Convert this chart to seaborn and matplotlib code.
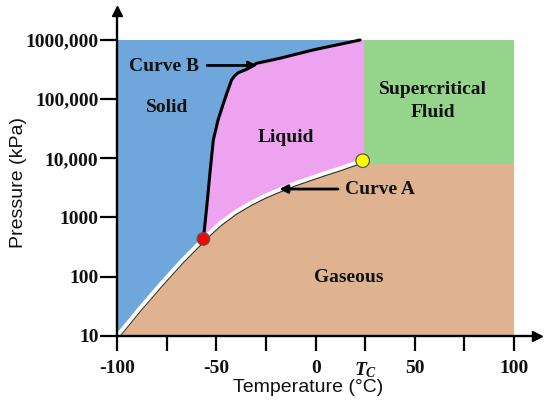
import numpy as np
import pandas as pd
import matplotlib
matplotlib.use("Agg")
import matplotlib.pyplot as plt
import matplotlib.patheffects as pe
from matplotlib.ticker import NullLocator
import seaborn as sns

# ---------------- data ----------------
x_ticks = [-100, -75, -50, -25, 0, 25, 50, 75, 100]
x_tick_labels = ["-100", "", "-50", "", "0", r"$T_C$", "50", "", "100"]
y_ticks = [10, 100, 1000, 10000, 100000, 1000000]
y_tick_labels = ["10", "100", "1000", "10,000", "100,000", "1000,000"]

# Curve A (sublimation + vaporization)
sub_T = [-100, -89.2, -78.3, -67.5, -56.6]
sub_P = [10, 27.7, 73.5, 185, 432]
vap_T = [-56.6, -52.5, -48.2, -40.7, -33.1, -25.6, -17.9, -10.5, -2.9, 4.7, 12.3, 18.4, 23.7]
vap_P = [432, 589, 795, 1222, 1733, 2322, 2985, 3750, 4585, 5610, 6770, 8000, 9100]
# Curve B (melting)
melt_T = [-56.6, -54.9, -53.3, -51.6, -49.2, -46.5, -44.2, -42.4, -40.7, -39.0,
          -34.8, -29.7, -18.0, -1.3, 22.4]
melt_P = [432, 1520, 5570, 20400, 44500, 85100, 142600, 211000, 251000, 280000,
          320000, 404000, 491000, 679000, 1000000]

triple_T, triple_P = -56.6, 432
crit_T, crit_P = 23.7, 9100
Tc_edge = 24.4
Pc_edge = 8040
T_min, T_max = -100, 100
P_min, P_max = 10, 1e6

region_names = ["Solid", "Liquid", "Supercritical", "Fluid", "Gaseous"]
region_T = [-74.9, -14.9, 59.2, 59.2, 16.7]
region_P = [73600, 22600, 143000, 59800, 97]

# ---------------- style ----------------
sns.set_theme(style="white")
plt.rcParams["font.family"] = ["Liberation Serif", "DejaVu Serif"]
plt.rcParams["mathtext.fontset"] = "custom"
plt.rcParams["mathtext.it"] = "Liberation Serif:italic:bold"
plt.rcParams["mathtext.rm"] = "Liberation Serif:bold"
plt.rcParams["mathtext.bf"] = "Liberation Serif:bold"

c_blue = "#6fa6dc"
c_pink = "#eda3ef"
c_green = "#95d48b"
c_tan = "#dfb38f"

fig = plt.figure(figsize=(5.5, 4.08), dpi=100)
fig.patch.set_facecolor("white")
ax = fig.add_axes([117.3 / 550, (408 - 335.7) / 408, (536.5 - 117.3) / 550, (335.7 - 11) / 408])
ax.set_facecolor("white")
ax.set_yscale("log")
ax.set_xlim(-100, 100 + (536.5 - 514) / 1.9835)
ax.set_ylim(10, 10 ** (1 + (335.7 - 11) / 59.14))

# ---------------- regions ----------------
ax.fill([T_min, Tc_edge, Tc_edge, T_min], [P_min, P_min, P_max, P_max],
        color=c_blue, lw=0, zorder=0)
ax.fill([Tc_edge, T_max, T_max, Tc_edge], [Pc_edge, Pc_edge, P_max, P_max],
        color=c_green, lw=0, zorder=0)
curveA_T = sub_T + vap_T[1:]
curveA_P = sub_P + vap_P[1:]
ax.fill(curveA_T + [Tc_edge, T_max, T_max, T_min],
        curveA_P + [Pc_edge, Pc_edge, P_min, P_min],
        color=c_tan, lw=0, zorder=1)
ax.fill(melt_T + [Tc_edge, Tc_edge] + vap_T[::-1],
        melt_P + [P_max, crit_P] + vap_P[::-1],
        color=c_pink, lw=0, zorder=1)

# ---------------- curves ----------------
dfA = pd.DataFrame({"T": curveA_T, "P": curveA_P})
dfB = pd.DataFrame({"T": melt_T, "P": melt_P})
sns.lineplot(data=dfA, x="T", y="P", ax=ax, sort=False, estimator=None,
             color="white", lw=2.8, zorder=3,
             path_effects=[pe.Stroke(offset=(0.4, -0.9), linewidth=2.4, foreground="#2a2a2a"),
                           pe.Normal()])
sns.lineplot(data=dfB, x="T", y="P", ax=ax, sort=False, estimator=None,
             color="black", lw=2.2, zorder=3)

pts = pd.DataFrame({"T": [triple_T, crit_T], "P": [triple_P, crit_P], "kind": ["triple", "critical"]})
sns.scatterplot(data=pts, x="T", y="P", hue="kind", palette={"triple": "#ff0000", "critical": "#ffff00"},
                s=[80, 95], edgecolor="#555555", linewidth=0.9, ax=ax, zorder=5, legend=False)

# ---------------- annotations ----------------
bold = dict(fontweight="bold", fontsize=14, color="#111111", ha="center", va="center")
for name, t, p in zip(region_names, region_T, region_P):
    ax.text(t, p, name, **bold, zorder=6)

ax.text(-76.5, 354000, "Curve B", **bold, zorder=6)
ax.annotate("", xy=(-29.5, 371000), xytext=(-54.7, 371000),
            arrowprops=dict(arrowstyle="-|>", color="black", lw=2, mutation_scale=12,
                            shrinkA=0, shrinkB=0), zorder=6)
ax.text(32.6, 2910, "Curve A", **bold, zorder=6)
ax.annotate("", xy=(-18.4, 3020), xytext=(11.3, 3020),
            arrowprops=dict(arrowstyle="-|>", color="black", lw=2, mutation_scale=12,
                            shrinkA=0, shrinkB=0), zorder=6)

# ---------------- axes ----------------
for s in ["top", "right"]:
    ax.spines[s].set_visible(False)
for s in ["left", "bottom"]:
    ax.spines[s].set_linewidth(1.7)
    ax.spines[s].set_color("black")
    ax.spines[s].set_zorder(7)
ax.plot(1, 0, ">", color="black", ms=7, transform=ax.transAxes, clip_on=False, zorder=8)
ax.plot(0, 1, "^", color="black", ms=7, transform=ax.transAxes, clip_on=False, zorder=8)

ax.set_xticks(x_ticks)
ax.set_xticklabels(x_tick_labels)
ax.set_yticks(y_ticks)
ax.set_yticklabels(y_tick_labels)
ax.yaxis.set_minor_locator(NullLocator())
ax.tick_params(axis="y", length=12, width=1.6, pad=1.5, direction="out", color="black",
               labelsize=14, left=True)
ax.tick_params(axis="x", length=10.5, width=1.6, pad=7, direction="out", color="black",
               labelsize=14, bottom=True)
for lab in ax.get_xticklabels() + ax.get_yticklabels():
    lab.set_fontweight("bold")
    lab.set_color("#111111")

ax.set_xlabel("Temperature (°C)", family=["Liberation Sans", "DejaVu Sans"], fontsize=14, color="#111111")
ax.set_ylabel("Pressure (kPa)", family=["Liberation Sans", "DejaVu Sans"], fontsize=14, color="#111111")
w_px = 536.5 - 117.3
h_px = 335.7 - 11
ax.xaxis.set_label_coords((308 - 117.3) / w_px, -(388 - 335.7) / h_px)
ax.xaxis.label.set_va("center")
ax.yaxis.set_label_coords((18 - 117.3) / w_px, (335.7 - 182) / h_px)
ax.yaxis.label.set_va("center")

fig.savefig("out.png", dpi=100, facecolor="white")
